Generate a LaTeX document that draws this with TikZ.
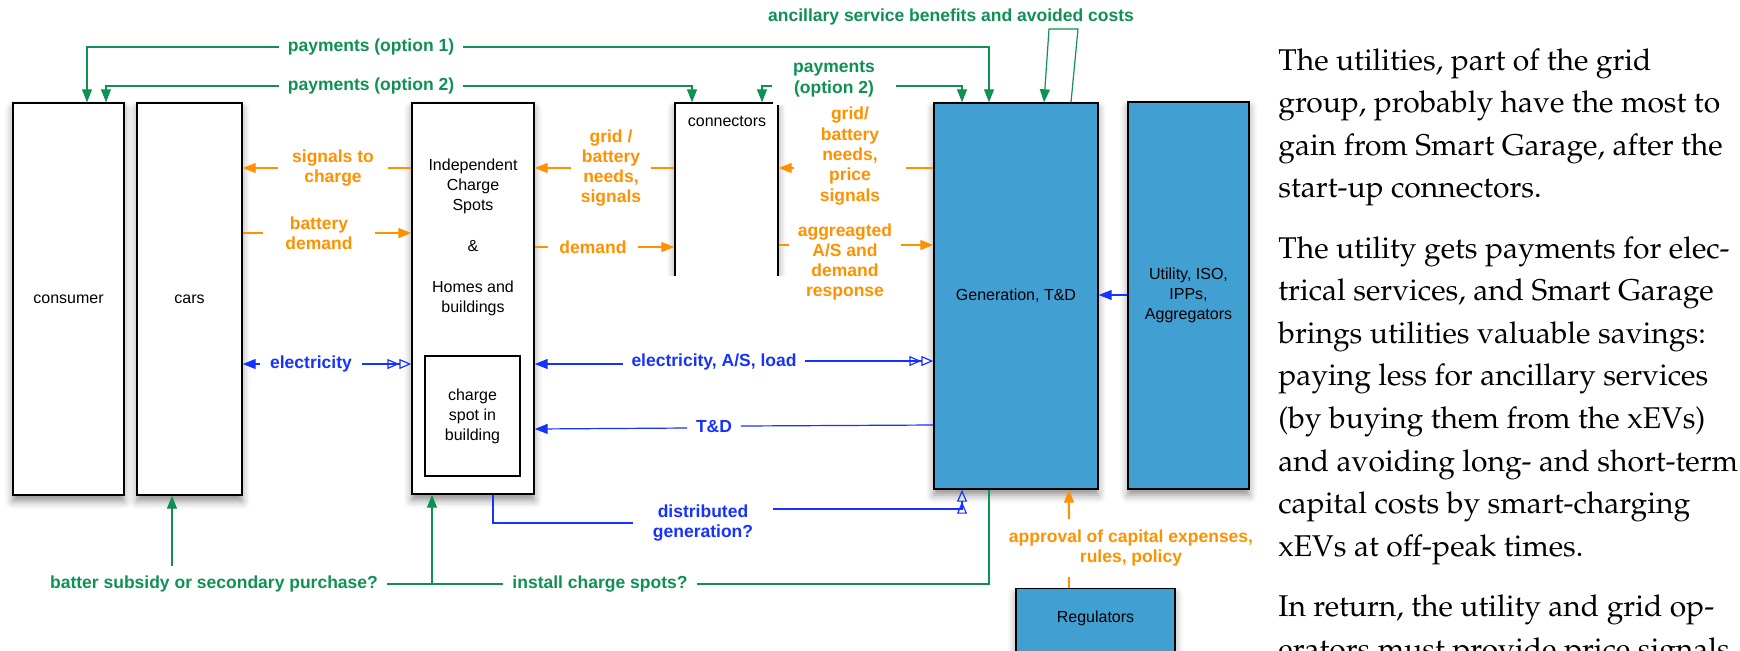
\documentclass[tikz,border=0pt]{standalone}
\usepackage[T1]{fontenc}
\usepackage{fontspec}
\setmainfont{Liberation Sans}
\usetikzlibrary{arrows.meta,shadows.blur}

\definecolor{boxblue}{RGB}{66,159,210}
\definecolor{paygreen}{RGB}{16,145,84}
\definecolor{sigorange}{RGB}{255,145,0}
\definecolor{powerblue}{RGB}{22,50,255}

% serif face for the running text beside the diagram
\newcommand\bookfont{\fontencoding{T1}\fontfamily{ppl}\selectfont}

\tikzset{
  box/.style={draw=black, line width=0.7pt, fill=white, inner sep=0pt,
    font=\fontsize{8}{10}\selectfont, align=center,
    blur shadow={shadow xshift=0pt, shadow yshift=-3pt, shadow blur radius=4pt, shadow opacity=45}},
  bluebox/.style={box, fill=boxblue},
  txt/.style={inner sep=0pt, font=\fontsize{8}{10}\selectfont, align=center},
  lab/.style={font=\bfseries\fontsize{8.75}{10.15}\selectfont, align=center,
    inner xsep=0pt, inner ysep=1pt},
  paylab/.style={lab, text=paygreen},
  siglab/.style={lab, text=sigorange},
  powlab/.style={lab, text=powerblue},
  pay/.style={draw=paygreen, line width=0.6pt},
  sig/.style={draw=sigorange, line width=0.6pt},
  pow/.style={draw=powerblue, line width=0.6pt},
  dopen/.tip={Triangle[open,length=6pt,width=5pt] Triangle[open,length=6pt,width=5pt]},
}

\begin{document}
\begin{tikzpicture}[x=0.5pt, y=-0.5pt, >={Triangle[length=6.5pt,width=5pt]}]
\useasboundingbox (0,0) rectangle (1740,650);

% ---------- participants ----------
\node[box, minimum width=55.5pt, minimum height=196pt] (cons) at (68.5,299) {consumer};
\node[box, minimum width=52.5pt, minimum height=196pt] (cars) at (189.5,299) {cars};
\node[box, minimum width=61pt, minimum height=195.5pt] (ics) at (473,298.5) {};
\node[txt] (icslab) at (473,237.5) {Independent\\Charge\\Spots\\[10.5pt]\&\\[10.5pt]Homes and\\buildings};
\node[draw=black, line width=0.7pt, fill=white, inner sep=0pt, minimum width=47.5pt,
      minimum height=60pt, font=\fontsize{8}{10}\selectfont, align=center] (spot) at (472.5,416)
      {charge\\spot in\\building};

\node[box, minimum width=51.5pt, minimum height=87pt] (conn) at (726.5,190) {};
\fill[white] (664,276) rectangle (792,312);
\node[txt] (connlab) at (727,121) {connectors};

\node[bluebox, minimum width=82pt, minimum height=193pt] (gen) at (1016,296) {Generation, T\&D};
\node[bluebox, minimum width=60.5pt, minimum height=193.5pt] (util) at (1188.5,295.5) {Utility, ISO,\\IPPs,\\Aggregators};
\node[bluebox, anchor=north, minimum width=79.5pt, minimum height=40pt] (reg) at (1095.5,588) {};
\node[txt] (reglab) at (1095.5,618) {Regulators};

% ---------- connector labels ----------
\node[paylab, minimum width=92pt] (lpay1) at (371,47) {payments (option 1)};
\node[paylab, minimum width=92pt] (lpay2) at (371,86) {payments (option 2)};
\node[paylab, fill=white, minimum width=61.5pt, inner ysep=4pt] (lpay3) at (834,79) {payments\\(option 2)};
\node[paylab] (lanc) at (951,17) {ancillary service benefits and avoided costs};

\node[siglab, minimum width=55pt] (lsig) at (333,168) {signals to\\charge};
\node[siglab, minimum width=56pt] (lbat) at (319,233) {battery\\demand};
\node[siglab, minimum width=40pt] (lgrid1) at (611,168) {grid /\\battery\\needs,\\signals};
\node[siglab, minimum width=45pt] (ldem) at (593,247) {demand};
\node[siglab, minimum width=55.5pt] (lgrid2) at (850,156) {grid/\\battery\\needs,\\price\\signals};
\node[siglab, minimum width=56pt] (lagg) at (845,262) {aggreagted\\A/S and\\demand\\response};
\node[siglab, inner ysep=5pt] (lapp) at (1131,548) {approval of capital expenses,\\rules, policy};

\node[powlab, minimum width=50.5pt] (lel1) at (311,364) {electricity};
\node[powlab, minimum width=91pt] (lel2) at (714,362) {electricity, A/S, load};
\node[powlab, minimum width=26.5pt] (ltd) at (714,427) {T\&D};
\node[powlab, minimum width=70pt] (ldg) at (703,523) {distributed\\generation?};

\node[paylab, inner xsep=4.5pt] (lsub) at (214,584) {batter subsidy or secondary purchase?};
\node[paylab, inner xsep=4.5pt] (lins) at (600,584) {install charge spots?};

% ---------- payments ----------
\draw[pay,->] (lpay1.west) -| (87,0 |- cons.north);
\draw[pay,->] (lpay1.east) -| (989,0 |- gen.north);
\draw[pay,->] (lpay2.west) -| (106,0 |- cons.north);
\draw[pay,->] (lpay2.east) -| (692,0 |- conn.north);
\draw[pay,->] (lpay3.west |- 0,86) -| (762,0 |- conn.north);
\draw[pay,->] (lpay3.east |- 0,86) -| (962,0 |- gen.north);
\draw[pay,->] (1071,0 |- gen.north) -- (1078,29) -- (1049,29) -- (1044,0 |- gen.north);

% ---------- signals and demand ----------
\draw[sig] (ics.west |- lsig.east) -- (lsig.east);
\draw[sig,->] (lsig.west) -- (cars.east |- lsig.west);
\draw[sig] (cars.east |- lbat.west) -- (lbat.west);
\draw[sig,->] (lbat.east) -- (ics.west |- lbat.east);
\draw[sig] (conn.west |- lgrid1.east) -- (lgrid1.east);
\draw[sig,->] (lgrid1.west) -- (ics.east |- lgrid1.west);
\draw[sig] (ics.east |- ldem.west) -- (ldem.west);
\draw[sig,->] (ldem.east) -- (conn.west |- ldem.east);
\draw[sig] (gen.west |- 0,168) -- (lgrid2.east |- 0,168);
\draw[sig,->] (lgrid2.west |- 0,168) -- (conn.east |- 0,168);
\draw[sig] (conn.east |- 0,245) -- (lagg.west |- 0,245);
\draw[sig,->] (lagg.east |- 0,245) -- (gen.west |- 0,245);
\draw[sig] (1069,0 |- reg.north) -- (1069,0 |- lapp.south);
\draw[sig,->] (1069,0 |- lapp.north) -- (1069,0 |- gen.south);

% ---------- power flows ----------
\draw[pow,->] (lel1.west) -- (cars.east |- lel1.west);
\draw[pow,-dopen] (lel1.east) -- (ics.west |- lel1.east);
\draw[pow,->] (lel2.west |- 0,364) -- (ics.east |- 0,364);
\draw[pow,-dopen] (lel2.east |- 0,361) -- (gen.west |- 0,361);
\draw[pow,->] (ltd.west |- 0,428) -- (ics.east |- 0,429);
\draw[pow] (gen.west |- 0,425) -- (ltd.east |- 0,426);
\draw[pow] (493,0 |- ics.south) |- (ldg.west);
\draw[pow,-dopen] (ldg.east |- 0,509) -| (962,0 |- gen.south);
\draw[pow,->] (util.west |- 0,295) -- (gen.east |- 0,295);

% ---------- investments ----------
\coordinate (subsrc) at (172,566);
\coordinate (junc) at (432,584);
\draw[pay,->] (subsrc) -- (subsrc |- cars.south);
\draw[pay] (lsub.east) -- (lins.west);
\draw[pay,->] (junc) -- (junc |- ics.south);
\draw[pay] (lins.east) -| (989,0 |- gen.south);

% ---------- running text ----------
\node[anchor=base west, inner sep=0pt, font=\bookfont\fontsize{15}{21.3}\selectfont] (para) at (1278,70)
{\begin{tabular}[t]{@{}l@{}}
The utilities, part of the grid\\
group, probably have the most to\\
gain from Smart Garage, after the\\
start-up connectors.\\[8.8pt]
The utility gets payments for elec-\\
trical services, and Smart Garage\\
brings utilities valuable savings:\\
paying less for ancillary services\\
(by buying them from the xEVs)\\
and avoiding long- and short-term\\
capital costs by smart-charging\\
xEVs at off-peak times.\\[8.8pt]
In return, the utility and grid op-\\
erators must provide price signals
\end{tabular}};
\end{tikzpicture}
\end{document}
